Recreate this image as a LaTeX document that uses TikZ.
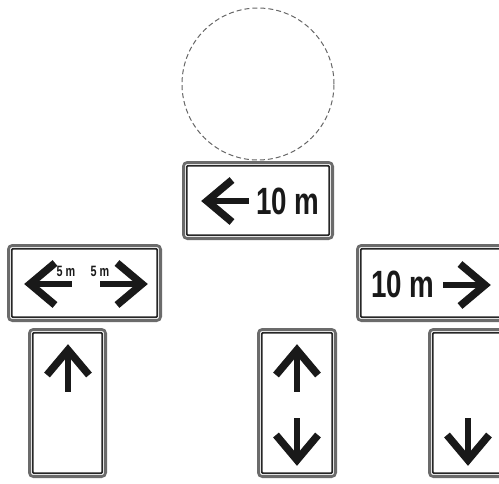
\documentclass[tikz,border=0pt]{standalone}
\usepackage{fontspec}
\newfontfamily\signfont{Liberation Sans}
\usetikzlibrary{positioning}
\tikzset{>=latex}
\tikzset{
  signouter/.style={draw=black!58, line width=2.8pt, rounded corners=4pt},
  signinner/.style={draw=black!85, line width=1.7pt, rounded corners=1pt},
  signtext/.style={inner sep=0pt, anchor=base, text=black!90,
    font=\signfont\bfseries\fontsize{38}{40}\selectfont},
  smalltext/.style={inner sep=0pt, anchor=base, text=black!90,
    font=\signfont\bfseries\fontsize{15}{16}\selectfont},
  signarrow/.pic={
    \draw[black!90, line width=6pt] (-5,0) -- (-47,0);
    \draw[black!90, line width=7.5pt, miter limit=10] (-30,-21) -- (-5,0) -- (-30,21);
  }
}

\begin{document}
\begin{tikzpicture}[x=1pt, y=-1pt]
        \useasboundingbox (0,0) rectangle (499,483);
        \clip (0,0) rectangle (499,483);
        % dashed circle above the sign
        \draw[black!60, line width=1pt, dash pattern=on 5pt off 3pt] (258,84) circle[radius=76pt];
        % sign frames
        \foreach \a/\b/\c/\d in {182/161/334/240, 7/244/162/322, 356/244/511/322,
          28/328/107/478, 257/328/337/478, 428/328/508/478}{
          \draw[signouter] (\a+1.4,\b+1.4) rectangle (\c-1.4,\d-1.4);
          \draw[signinner] (\a+4.8,\b+4.8) rectangle (\c-4.8,\d-4.8);
        }
        % top sign
        \pic[rotate=180] at (202,201) {signarrow};
        \node[signtext] (topdist) at (288,214) {\scalebox{0.73}[1]{10 m}};
        % left sign
        \pic[rotate=180] at (25,284) {signarrow};
        \pic at (147,284) {signarrow};
        \node[smalltext] (leftdist) at (66,276) {\scalebox{0.72}[1]{5 m}};
        \node[smalltext] (rightdist) at (100,276) {\scalebox{0.72}[1]{5 m}};
        % right sign
        \node[signtext] (rightsign) at (403,297) {\scalebox{0.73}[1]{10 m}};
        \pic at (490,285) {signarrow};
        % lower signs
        \pic[rotate=90] at (68,345) {signarrow};
        \pic[rotate=90] at (297,345) {signarrow};
        \pic[rotate=-90] at (297,465) {signarrow};
        \pic[rotate=-90] at (468,465) {signarrow};
      \end{tikzpicture}
\end{document}
